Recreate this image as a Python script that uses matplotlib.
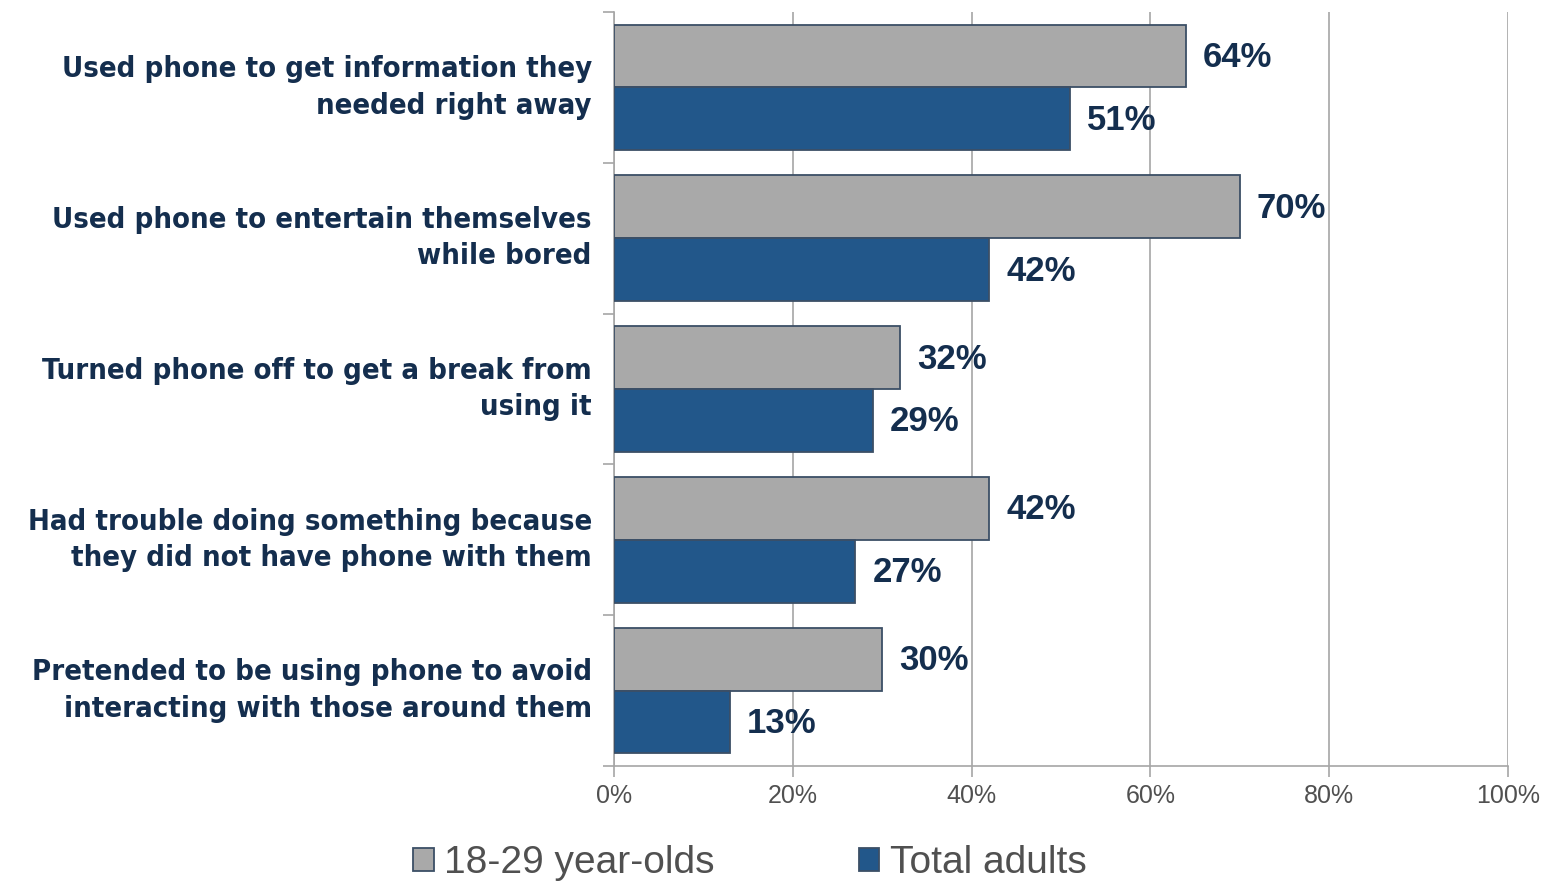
import matplotlib
matplotlib.use("Agg")
import matplotlib.pyplot as plt
from matplotlib.patches import Patch
from matplotlib.ticker import FixedLocator, PercentFormatter

categories = [
    "Used phone to get information they\nneeded right away",
    "Used phone to entertain themselves\nwhile bored",
    "Turned phone off to get a break from\nusing it",
    "Had trouble doing something because\nthey did not have phone with them",
    "Pretended to be using phone to avoid\ninteracting with those around them",
]
young_adults = [64, 70, 32, 42, 30]
total_adults = [51, 42, 29, 27, 13]
series_names = ["18-29 year-olds", "Total adults"]
x_ticks = [0, 20, 40, 60, 80, 100]

GRAY = "#A9A9A9"
BLUE = "#22578A"
EDGE = "#3C4F66"
NAVY = "#142E4E"
AXIS_GRAY = "#A6A6A6"
TEXT_GRAY = "#505050"

fig = plt.figure(figsize=(15.49, 8.81), dpi=100)
ax = fig.add_axes([614 / 1549, 1 - 766 / 881, 894 / 1549, 754 / 881])

bar_h = 0.417
ypos = list(range(len(categories)))
ax.barh([y - bar_h / 2 for y in ypos], young_adults, height=bar_h,
        color=GRAY, edgecolor=EDGE, linewidth=1.3, zorder=3)
ax.barh([y + bar_h / 2 for y in ypos], total_adults, height=bar_h,
        color=BLUE, edgecolor=EDGE, linewidth=1.3, zorder=3)

value_font = dict(ha="left", va="center", fontsize=25, fontweight="bold", color=NAVY,
                  family=["Liberation Sans", "DejaVu Sans"], zorder=4)
for y, v in zip(ypos, young_adults):
    ax.text(v + 1.9, y - bar_h / 2 + 0.01, f"{v}%", **value_font)
for y, v in zip(ypos, total_adults):
    ax.text(v + 1.9, y + bar_h / 2 + 0.01, f"{v}%", **value_font)

ax.set_xlim(0, 100)
ax.set_ylim(len(categories) - 0.5, -0.5)
ax.xaxis.set_major_locator(FixedLocator(x_ticks))
ax.xaxis.set_major_formatter(PercentFormatter(decimals=0))
ax.grid(axis="x", color=AXIS_GRAY, linewidth=1.2, zorder=0)

ax.set_yticks(ypos)
ax.set_yticklabels(categories)
ax.yaxis.set_minor_locator(FixedLocator([i - 0.5 for i in range(len(categories) + 1)]))
ax.tick_params(axis="y", which="major", length=0, pad=16)
ax.tick_params(axis="y", which="minor", length=8, width=1.2, color=AXIS_GRAY)
ax.tick_params(axis="x", which="major", length=8, width=1.2, color=AXIS_GRAY,
               pad=5, labelsize=18, labelcolor=TEXT_GRAY)
for lbl in ax.get_yticklabels():
    lbl.set_fontsize(21)
    lbl.set_fontweight("bold")
    lbl.set_fontstretch("condensed")
    lbl.set_color(NAVY)
    lbl.set_family(["DejaVu Sans"])
    lbl.set_linespacing(1.38)
    lbl.set_verticalalignment("center")
for lbl in ax.get_xticklabels():
    lbl.set_family(["Liberation Sans", "DejaVu Sans"])

for side in ("top", "right"):
    ax.spines[side].set_visible(False)
for side in ("left", "bottom"):
    ax.spines[side].set_color(AXIS_GRAY)
    ax.spines[side].set_linewidth(1.2)

handles = [Patch(facecolor=GRAY, edgecolor=EDGE, linewidth=1.3),
           Patch(facecolor=BLUE, edgecolor=EDGE, linewidth=1.3)]
fig.legend(handles, series_names, loc="center", bbox_to_anchor=(750 / 1549, 1 - 863 / 881),
           ncol=2, frameon=False, handlelength=0.52, handleheight=0.52, handletextpad=0.28,
           columnspacing=3.7,
           prop={"family": ["Liberation Sans", "DejaVu Sans"], "size": 28},
           labelcolor=TEXT_GRAY)

fig.savefig("out.png", dpi=100, facecolor="white")
